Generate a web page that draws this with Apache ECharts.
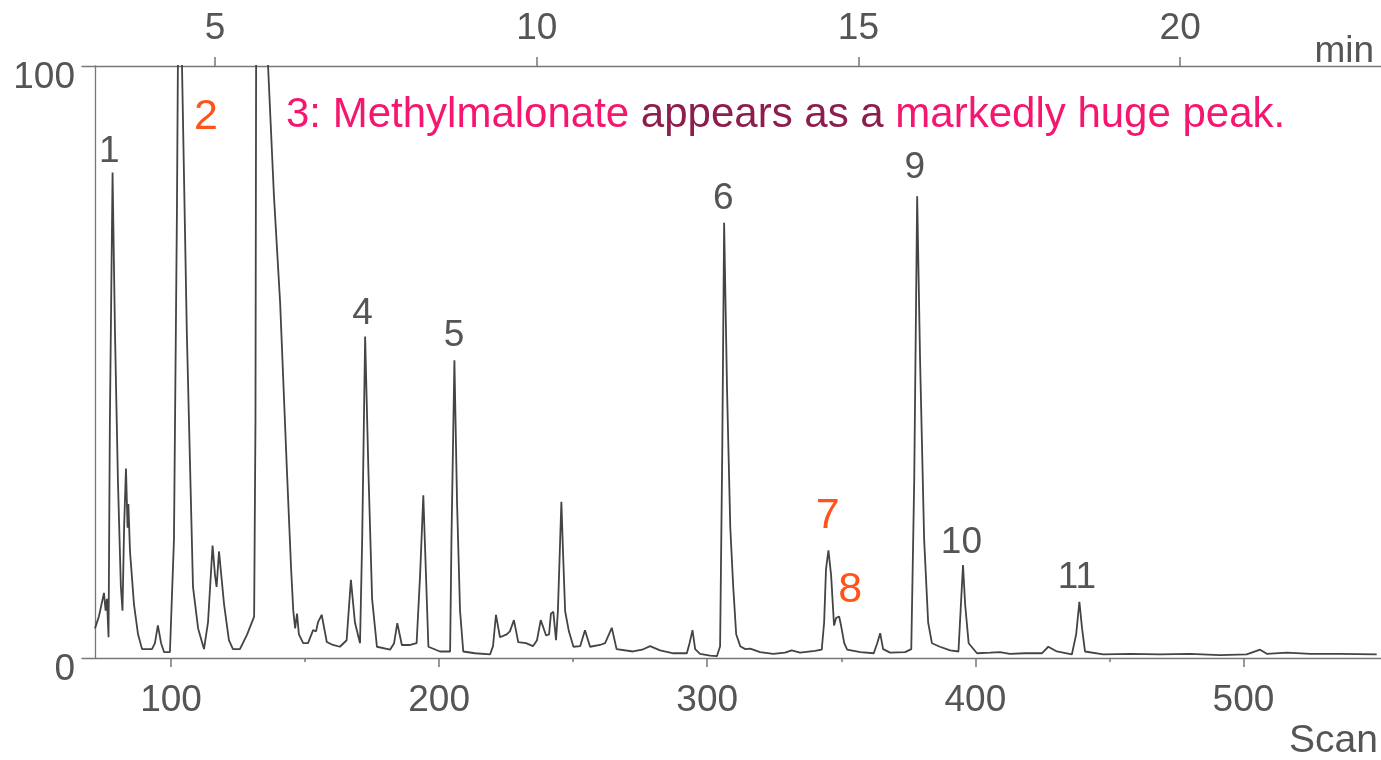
<!DOCTYPE html>
<html>
<head>
<meta charset="utf-8">
<script src="https://cdn.jsdelivr.net/npm/echarts@6.0.0/dist/echarts.min.js"></script>
<style>
html,body{margin:0;padding:0;background:#fff;}
#chart{width:1381px;height:760px;}
</style>
</head>
<body>
<div id="chart"></div>
<script>
// ---- data ----
const scans = [71.65,73.1,75.0,75.6,76.1,76.7,77.2,78.2,79.1,80.2,81.3,81.9,82.5,83.2,83.8,84.1,84.7,86.2,87.7,89.2,92.9,94.0,95.1,96.3,97.4,99.6,
  101.1,102.2,103.0,104.1,105.9,108.2,110.1,112.3,113.8,115.5,116.4,117.0,117.9,119.8,121.6,123.1,125.7,128.4,131.0,131.5,131.8,135.9,
  136.2,138.4,140.7,143.2,144.8,145.6,146.3,147.0,147.7,149.3,151.1,153.0,154.1,154.8,156.2,158.1,160.4,163.0,165.5,167.1,168.6,170.5,
  171.3,172.4,173.6,175.0,176.8,181.7,183.2,184.4,186.1,189.2,191.6,192.9,194.1,194.8,196.0,200.3,204.1,204.6,205.7,206.7,207.8,209.0,
  213.4,219.0,220.1,221.2,222.7,225.2,226.4,227.9,229.5,232.4,235.0,236.5,237.9,239.9,241.0,241.7,242.6,243.6,244.3,245.6,246.2,247.0,
  248.4,250.1,252.6,254.4,256.3,260.0,261.9,264.4,266.2,272.3,275.7,278.7,282.4,287.4,292.4,293.4,294.5,295.5,297.3,301.1,303.6,304.8,
  305.6,306.3,307.4,308.6,309.7,310.8,312.3,314.2,316.0,319.7,324.6,329.0,331.5,334.6,340.2,342.7,343.6,344.3,345.2,346.2,347.3,348.1,
  349.2,349.9,351.1,352.2,357.1,362.1,363.4,364.5,365.6,368.2,373.8,376.1,377.2,378.3,379.4,380.9,382.4,383.8,386.8,390.6,393.7,394.5,
  395.4,396.2,397.5,400.6,405.6,409.2,412.9,418.5,424.8,427.2,430.4,436.0,437.6,438.8,439.8,440.9,447.7,457.7,468.9,480.1,491.3,501.2,
  503.6,506.2,508.7,516.2,524.9,536.0,549.7];
const intensity = [5,7,11,8,10,3.5,40,82,55,30,12,8,22,32,22,26,18,9,4,1.5,1.5,2.5,5.5,2.5,1,1,
  20,75,130,100,55,12,5,1.5,6,19,14,12,18,9,3,1.5,1.5,4,7,40,115,115,
  100,78,60,32,15,8,5,7.5,4,2.5,2.5,4.7,4.5,6,7.3,2.7,2.2,1.9,3.0,13.2,6,2.5,
  20,54.3,32,10,1.9,1.4,2.5,5.9,2.2,2.2,2.5,14,27.5,18,1.9,1.1,1.1,20,50.3,26,8,1.1,
  0.8,0.6,2,7.3,3.5,4,4.5,6.4,2.7,2.5,2.0,3,6.4,3.8,4,7.5,7.8,3,8,26.4,18,7.9,
  4.5,1.9,2,4.7,1.9,2.2,2.5,5.1,1.5,1.1,1.4,2,1.3,0.8,0.8,2.5,4.7,1.5,0.7,0.4,0.3,2,
  35,73.5,45,22,12,4,2,1.5,1.6,1.0,0.7,0.9,1.3,0.9,1.2,1.4,6,15,18.2,14,5.5,6.8,
  7,5.5,2.5,1.4,1.0,0.8,2.5,4.2,1.5,0.9,1.0,1.5,30,78,50,20,6,2.5,1.9,1.3,1.1,8,
  15.7,9,2.5,0.8,0.9,1.0,0.7,0.8,0.8,1.9,1.1,0.6,4,9.5,5,1.1,0.6,0.7,0.6,0.7,0.5,0.6,
  1.0,1.4,0.7,0.9,0.7,0.7,0.6];

const scanTicks = [100, 200, 300, 400, 500];
const scanMinorTicks = [150, 250, 350, 450];
const minuteTicks = [5, 10, 15, 20];
const yTicks = [0, 100];

const peakNames = ['1','2','4','5','6','7','8','9','10','11'];
const peakScans = [77.0, 113.0, 171.4, 205.6, 306.0, 344.9, 353.3, 377.4, 394.8, 437.9];
const peakLevels = [85.5, 91.4, 58.2, 54.4, 77.5, 24.0, 11.5, 82.8, 19.4, 13.5];
const orangePeaks = ['2','7','8'];

// scan number <-> retention time (min): scan = 24*min - 3.6
const scanMin = 66.8, scanMax = 551.3;
const toMin = s => (s + 3.6) / 24;

const gray = '#555';
const axisColor = '#777';
const font = 'Liberation Sans, Arial, Helvetica, sans-serif';

const chart = echarts.init(document.getElementById('chart'), null, {renderer: 'canvas'});
const lineData = scans.map((s, i) => [s, intensity[i]]);
const labelData = peakNames.map((n, i) => ({
  name: n,
  value: [peakScans[i], peakLevels[i]],
  label: orangePeaks.includes(n)
    ? {color: '#ff531a', fontSize: 43}
    : {color: gray, fontSize: 37}
}));

chart.setOption({
  animation: false,
  backgroundColor: '#fff',
  grid: {left: 82, right: 0, top: 66, bottom: 102, containLabel: false},
  xAxis: [
    {
      type: 'value', position: 'bottom', min: scanMin, max: scanMax,
      axisLine: {show: true, lineStyle: {color: axisColor, width: 1.3}},
      axisTick: {show: true, customValues: scanTicks, length: 9, lineStyle: {color: axisColor, width: 1.5}},
      axisLabel: {show: true, customValues: scanTicks, fontSize: 37, color: gray, fontFamily: font, margin: 24, lineHeight: 37},
      splitLine: {show: false}
    },
    {
      type: 'value', position: 'bottom', min: scanMin, max: scanMax,
      axisLine: {show: false},
      axisTick: {show: true, customValues: scanMinorTicks, length: 4, lineStyle: {color: axisColor, width: 1.5}},
      axisLabel: {show: false},
      splitLine: {show: false}
    },
    {
      type: 'value', position: 'top', min: toMin(scanMin), max: toMin(scanMax),
      axisLine: {show: true, lineStyle: {color: axisColor, width: 1.3}},
      axisTick: {show: true, customValues: minuteTicks, length: 9, lineStyle: {color: axisColor, width: 1.5}},
      axisLabel: {show: true, customValues: minuteTicks, fontSize: 37, color: gray, fontFamily: font, margin: 19, lineHeight: 37},
      splitLine: {show: false}
    }
  ],
  yAxis: {
    type: 'value', min: 0, max: 100, offset: -13,
    axisLine: {show: true, lineStyle: {color: axisColor, width: 1.3}},
    axisTick: {show: false},
    axisLabel: {show: true, customValues: yTicks, fontSize: 37, color: gray, fontFamily: font, margin: 20, verticalAlign: 'top', lineHeight: 24},
    splitLine: {show: false}
  },
  series: [
    {
      type: 'line', xAxisIndex: 0, data: lineData, showSymbol: false, symbol: 'none',
      clip: true, smooth: false,
      lineStyle: {color: '#444', width: 1.8}
    },
    {
      type: 'scatter', xAxisIndex: 0, data: labelData, symbolSize: 0, silent: true,
      itemStyle: {opacity: 1},
      label: {show: true, position: 'inside', formatter: '{b}', fontFamily: font}
    }
  ],
  graphic: [
    {
      type: 'text', left: 286, top: 94, silent: true,
      style: {
        text: '{p|3: Methylmalonate}{d| appears as a }{p|markedly huge peak.}',
        rich: {
          p: {fill: '#f5166f', fontSize: 42, fontFamily: font},
          d: {fill: '#8c1d4d', fontSize: 42, fontFamily: font}
        }
      }
    },
    {
      type: 'text', silent: true,
      style: {text: 'min', x: 1374, y: 52, align: 'right', verticalAlign: 'middle', fontSize: 37, fill: gray, fontFamily: font}
    },
    {
      type: 'text', silent: true,
      style: {text: 'Scan', x: 1378, y: 741, align: 'right', verticalAlign: 'middle', fontSize: 39, fill: gray, fontFamily: font}
    }
  ]
});
</script>
</body>
</html>
